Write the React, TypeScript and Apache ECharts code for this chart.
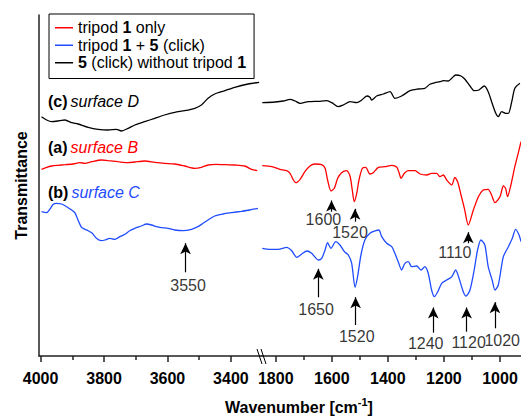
import React, { useEffect, useRef } from 'react';
import * as echarts from 'echarts';

// ---- Data: wavenumber (cm-1) and transmittance (a.u., offset traces) ----
// Left segment (4000 - 3300 cm-1)
const redLeftWn = [3997, 3981, 3965, 3945, 3923, 3897, 3876, 3860, 3839, 3808, 3787, 3756, 3724, 3703, 3672, 3640, 3609, 3577, 3546, 3514, 3493, 3472, 3446, 3414, 3388, 3357, 3335, 3317];
const redLeftT = [186.7, 188.7, 190, 190.7, 191.3, 192, 193.3, 192.7, 194.3, 196, 195.3, 194.3, 193.3, 194, 195, 193.7, 192.7, 192, 190, 187.7, 188.7, 191, 191.7, 191.3, 191, 190, 186.7, 185.3];

const blueLeftWn = [3997, 3981, 3971, 3960, 3950, 3934, 3918, 3902, 3892, 3882, 3871, 3860, 3850, 3837, 3824, 3808, 3797, 3782, 3766, 3750, 3734, 3719, 3703, 3682, 3666, 3650, 3635, 3619, 3598, 3577, 3551, 3524, 3504, 3488, 3472, 3451, 3425, 3398, 3367, 3341, 3315];
const blueLeftT = [144.3, 143.3, 146.7, 151.7, 152.7, 152, 149.3, 146, 143.3, 136, 128.7, 126.7, 125.3, 122.7, 117.7, 115.3, 116, 117.7, 116.7, 119.3, 121.7, 125.3, 127.7, 130, 132, 131, 129.3, 128.3, 127.7, 126, 125.3, 126.7, 129.3, 132.7, 136, 140, 142, 143.3, 144.7, 146, 147.7];

const blackLeftWn = [3997, 3981, 3965, 3939, 3923, 3902, 3882, 3850, 3819, 3787, 3761, 3745, 3724, 3703, 3672, 3640, 3609, 3577, 3546, 3514, 3493, 3472, 3451, 3419, 3388, 3346, 3311];
const blackLeftT = [239.3, 236, 234.3, 235.3, 236, 233.3, 232, 228.7, 226.7, 226, 226.7, 225, 227.7, 231, 234.3, 237.7, 241, 243.7, 245.3, 247.7, 251, 257.7, 262, 265.3, 268.7, 272, 273.7];

// Right segment (1850 - 925 cm-1)
const redRightWn = [1848, 1814, 1785, 1761, 1749, 1737, 1728, 1713, 1696, 1678, 1660, 1636, 1624, 1615, 1603, 1591, 1579, 1565, 1547, 1535, 1527, 1520, 1511, 1503, 1491, 1479, 1464, 1452, 1434, 1410, 1386, 1368, 1360, 1353, 1341, 1327, 1303, 1285, 1261, 1244, 1226, 1214, 1202, 1190, 1172, 1161, 1151, 1139, 1127, 1113, 1095, 1077, 1060, 1042, 1030, 1018, 1000, 988, 980, 973, 961, 947, 935, 925];
const redRightT = [190.3, 189.3, 186.7, 185.3, 182.7, 176, 173.3, 176.7, 184.3, 190, 192, 191.3, 187.7, 176, 165, 167.7, 177.7, 183.3, 185.3, 180, 166, 154.3, 162.7, 176, 187.7, 188.7, 182, 183.3, 188.7, 189.3, 190.7, 188.7, 183.3, 177.7, 182.7, 185.3, 185.3, 182, 181, 182.7, 182.7, 179.3, 181, 176, 171, 178.7, 174.3, 161, 147.7, 131, 146, 159.3, 166, 166.7, 161, 153.3, 159.3, 170, 167.7, 159.3, 171, 189.3, 202.7, 214.3];

const blueRightWn = [1848, 1820, 1791, 1761, 1743, 1725, 1707, 1689, 1672, 1648, 1636, 1624, 1615, 1603, 1586, 1571, 1555, 1541, 1529, 1517, 1508, 1496, 1482, 1464, 1443, 1432, 1422, 1404, 1386, 1375, 1363, 1351, 1339, 1327, 1315, 1297, 1282, 1268, 1256, 1244, 1234, 1222, 1208, 1190, 1172, 1158, 1146, 1131, 1121, 1107, 1092, 1080, 1068, 1054, 1042, 1028, 1018, 1006, 988, 970, 956, 944, 932, 925];
const blueRightT = [107.7, 106.7, 106.7, 108.7, 105.3, 98.7, 102, 105, 102.7, 96, 97.7, 106, 113.3, 107.7, 114.3, 111, 104.3, 101, 92.7, 68.7, 79.3, 101, 116, 122.7, 125.3, 126, 119.3, 112.7, 109.3, 102.7, 94.3, 86, 92.7, 94.3, 89.3, 90, 86, 89.3, 82.7, 66, 59.3, 64.3, 72.7, 76, 79.3, 86, 77.7, 64.3, 60, 66, 86, 106, 116, 111, 89.3, 76, 66, 71, 99.3, 109.3, 117.7, 126.7, 121, 114.3];

const blackRightWn = [1848, 1802, 1773, 1749, 1731, 1713, 1684, 1648, 1618, 1600, 1577, 1559, 1535, 1511, 1493, 1475, 1464, 1458, 1440, 1416, 1392, 1375, 1351, 1321, 1291, 1268, 1250, 1232, 1214, 1202, 1184, 1172, 1158, 1139, 1125, 1107, 1092, 1075, 1056, 1042, 1028, 1015, 1006, 994, 980, 970, 958, 947, 929];
const blackRightT = [253.3, 254, 255, 256.7, 255, 252.7, 254.3, 254.7, 255.3, 253.3, 249.3, 251, 254.3, 253.3, 256, 260, 258.7, 256, 260, 262, 264.3, 257.7, 260, 265.3, 267, 267.7, 271.7, 273.3, 274.3, 275.3, 275, 277.7, 281, 280, 276.7, 270, 265.3, 266, 270, 264.3, 252.7, 242.7, 239.3, 244.3, 242.7, 242.7, 254.3, 267.7, 272.7];

// Peak annotations (arrow tip/tail and label anchor in data units)
type Arrow = { label: string; wn: number; tip: number; tail: number; labelWn: number; labelY: number };
const leftArrows: Arrow[] = [
  { label: '3550', wn: 3543, tip: 118.3, tail: 83.7, labelWn: 3535, labelY: 71 },
];
const rightArrows: Arrow[] = [
  { label: '1600', wn: 1601, tip: 161, tail: 144.3, labelWn: 1630, labelY: 136.7 },
  { label: '1520', wn: 1517, tip: 152.7, tail: 134.3, labelWn: 1535, labelY: 123.3 },
  { label: '1110', wn: 1113, tip: 129.3, tail: 112.7, labelWn: 1161, labelY: 103.3 },
  { label: '1650', wn: 1648, tip: 92.7, tail: 58.7, labelWn: 1656, labelY: 47 },
  { label: '1520', wn: 1515, tip: 64.3, tail: 31, labelWn: 1511, labelY: 19.3 },
  { label: '1240', wn: 1238, tip: 54, tail: 23.3, labelWn: 1265, labelY: 12.7 },
  { label: '1120', wn: 1119, tip: 54, tail: 24.3, labelWn: 1112, labelY: 13.7 },
  { label: '1020', wn: 1018, tip: 59.3, tail: 27.7, labelWn: 992, labelY: 16 },
];

const leftMajorTicks = [4000, 3800, 3600, 3400];
const leftMinorTicks = [3900, 3700, 3500];
const rightMajorTicks = [1800, 1600, 1400, 1200, 1000];
const rightMinorTicks = [1700, 1500, 1300, 1100];

const seriesNames = ['tripod 1 only', 'tripod 1 + 5 (click)', '5 (click) without tripod 1'];

const FONT = "'Liberation Sans', Arial, Helvetica, sans-serif";
const RED = '#ff0000';
const BLUE = '#1f4cff';
const BLACK = '#000000';
const AXIS = '#222222';
const HEAD_LEN = 11;

const zip = (xs: number[], ys: number[]) => xs.map((x, i) => [x, ys[i]]);

const legendText: Record<string, string> = {
  'tripod 1 only': '{n|tripod }{b|1}{n| only}',
  'tripod 1 + 5 (click)': '{n|tripod }{b|1}{n| + }{b|5}{n| (click)}',
  '5 (click) without tripod 1': '{b|5}{n| (click) without tripod }{b|1}',
};

function makeXAxis(gridIndex: number, min: number, max: number, ticks: number[], major: boolean) {
  return {
    type: 'value',
    gridIndex,
    position: 'bottom',
    inverse: true,
    min,
    max,
    axisLine: { show: major, onZero: false, lineStyle: { color: AXIS, width: 1.5 } },
    axisTick: {
      show: true,
      inside: false,
      length: major ? 6 : 4,
      customValues: ticks,
      lineStyle: { color: AXIS, width: 1.5 },
    },
    axisLabel: {
      show: major,
      customValues: ticks,
      formatter: (v: number) => String(v),
      margin: 14,
      fontSize: 16,
      fontWeight: 'bold',
      fontFamily: FONT,
      color: '#000',
    },
    splitLine: { show: false },
  };
}

function lineSeries(name: string, color: string, axisIdx: number, yIdx: number, data: number[][]) {
  return {
    type: 'line',
    name,
    xAxisIndex: axisIdx,
    yAxisIndex: yIdx,
    data,
    showSymbol: false,
    symbol: 'none',
    smooth: 0.25,
    lineStyle: { color, width: 1.3 },
    itemStyle: { color },
    silent: true,
    z: 2,
  };
}

function annotationSeries(arrows: Arrow[], axisIdx: number, yIdx: number) {
  return {
    type: 'scatter',
    name: 'annotations-' + axisIdx,
    xAxisIndex: axisIdx,
    yAxisIndex: yIdx,
    data: arrows.map((a) => ({ name: a.label, value: [a.labelWn, a.labelY] })),
    symbolSize: 1,
    itemStyle: { color: 'rgba(0,0,0,0)' },
    silent: true,
    z: 3,
    label: {
      show: true,
      position: 'inside',
      formatter: '{b}',
      fontSize: 16,
      fontFamily: FONT,
      color: '#000',
    },
    markLine: {
      silent: true,
      symbol: ['none', 'arrow'],
      symbolSize: [8, HEAD_LEN],
      lineStyle: { color: '#000', width: 1.2, type: 'solid' },
      label: { show: false },
      emphasis: { disabled: true },
      data: arrows.map((a) => [
        { coord: [a.wn, a.tail] },
        { coord: [a.wn, a.tip - HEAD_LEN / 2] },
      ]),
    },
  };
}

function seriesLabel(y: number, tag: string, name: string, color: string) {
  return {
    type: 'text',
    x: 48,
    y,
    style: {
      text: `{b|${tag}}{i|${name}}`,
      verticalAlign: 'middle',
      align: 'left',
      rich: {
        b: { fontSize: 16, fontWeight: 'bold', fontFamily: FONT, fill: '#000' },
        i: { fontSize: 16, fontStyle: 'italic', fontFamily: FONT, fill: color, padding: [0, 0, 0, 3] },
      },
    },
    z: 10,
  };
}

export default function App() {
  const ref = useRef<HTMLDivElement>(null);

  useEffect(() => {
    if (!ref.current) return;
    const chart = echarts.init(ref.current, null, { renderer: 'svg' });
    const option: any = {
      animation: false,
      backgroundColor: '#ffffff',
      textStyle: { fontFamily: FONT },
      grid: [
        { left: 39, top: 15, width: 223, height: 341, outerBoundsMode: 'none', containLabel: false },
        { left: 262, top: 15, width: 259, height: 341, outerBoundsMode: 'none', containLabel: false },
      ],
      xAxis: [
        makeXAxis(0, 3302, 4005, leftMajorTicks, true),
        makeXAxis(0, 3302, 4005, leftMinorTicks, false),
        makeXAxis(1, 925, 1849, rightMajorTicks, true),
        makeXAxis(1, 925, 1849, rightMinorTicks, false),
      ],
      yAxis: [
        {
          type: 'value',
          gridIndex: 0,
          min: 0,
          max: 341,
          name: 'Transmittance',
          nameLocation: 'middle',
          nameRotate: 90,
          nameGap: 10,
          nameTextStyle: { fontSize: 16, fontWeight: 'bold', fontFamily: FONT, color: '#000' },
          axisLine: { show: true, onZero: false, lineStyle: { color: AXIS, width: 1.5 } },
          axisTick: { show: false },
          axisLabel: { show: false },
          splitLine: { show: false },
        },
        {
          type: 'value',
          gridIndex: 1,
          min: 0,
          max: 341,
          show: false,
          splitLine: { show: false },
        },
      ],
      legend: {
        show: true,
        left: 49,
        top: 14,
        orient: 'vertical',
        padding: [5, 8, 7, 6],
        itemGap: 0,
        itemWidth: 18,
        itemHeight: 1.5,
        icon: 'rect',
        borderColor: '#000',
        borderWidth: 1,
        borderRadius: 0,
        selectedMode: false,
        data: seriesNames,
        formatter: (name: string) => legendText[name] || name,
        textStyle: {
          fontSize: 16,
          fontFamily: FONT,
          color: '#000',
          lineHeight: 17.5,
          rich: {
            n: { fontSize: 16, fontFamily: FONT, color: '#000', lineHeight: 17.5 },
            b: { fontSize: 16, fontFamily: FONT, fontWeight: 'bold', color: '#000', lineHeight: 17.5 },
          },
        },
      },
      series: [
        lineSeries(seriesNames[0], RED, 0, 0, zip(redLeftWn, redLeftT)),
        lineSeries(seriesNames[1], BLUE, 0, 0, zip(blueLeftWn, blueLeftT)),
        lineSeries(seriesNames[2], BLACK, 0, 0, zip(blackLeftWn, blackLeftT)),
        lineSeries(seriesNames[0], RED, 2, 1, zip(redRightWn, redRightT)),
        lineSeries(seriesNames[1], BLUE, 2, 1, zip(blueRightWn, blueRightT)),
        lineSeries(seriesNames[2], BLACK, 2, 1, zip(blackRightWn, blackRightT)),
        annotationSeries(leftArrows, 0, 0),
        annotationSeries(rightArrows, 2, 1),
      ],
      graphic: [
        seriesLabel(101, '(c)', 'surface D', BLACK),
        seriesLabel(147, '(a)', 'surface B', RED),
        seriesLabel(192, '(b)', 'surface C', BLUE),
        {
          type: 'text',
          x: 299,
          y: 407,
          style: {
            text: '{a|Wavenumber [cm}{s|-1}{a|]}',
            align: 'center',
            verticalAlign: 'middle',
            rich: {
              a: { fontSize: 16, fontWeight: 'bold', fontFamily: FONT, fill: '#000', lineHeight: 22 },
              s: { fontSize: 11, fontWeight: 'bold', fontFamily: FONT, fill: '#000', lineHeight: 22, verticalAlign: 'top' },
            },
          },
        },
        {
          type: 'line',
          shape: { x1: 257, y1: 349, x2: 262, y2: 364 },
          style: { stroke: '#000', lineWidth: 1 },
          z: 10,
        },
        {
          type: 'line',
          shape: { x1: 261, y1: 349, x2: 266, y2: 364 },
          style: { stroke: '#000', lineWidth: 1 },
          z: 10,
        },
      ],
    };
    chart.setOption(option);
    return () => {
      chart.dispose();
    };
  }, []);

  return (
    <div
      ref={ref}
      style={{ position: 'fixed', left: 0, top: 0, width: 521, height: 417, background: '#fff' }}
    />
  );
}
